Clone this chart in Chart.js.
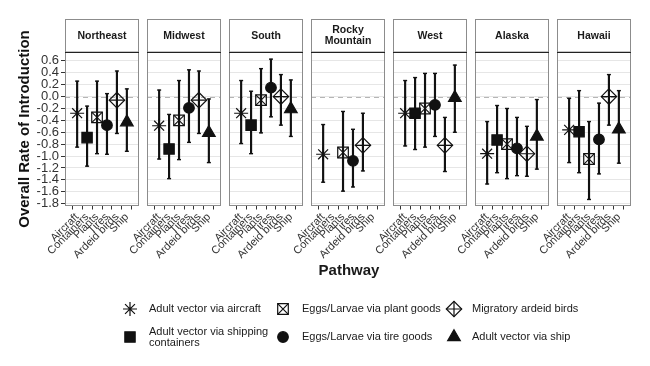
<!DOCTYPE html>
<html>
<head>
<meta charset="utf-8">
<script src="https://cdn.jsdelivr.net/npm/chart.js@4.4.1/dist/chart.umd.min.js"></script>
<style>
  html, body { margin: 0; padding: 0; background: #fff; }
  #wrap { position: relative; width: 650px; height: 366px; overflow: hidden;
          font-family: 'Liberation Sans', Arial, sans-serif; color: #1a1a1a; }
  #wrap canvas { position: absolute; top: 0; }
  #xtitle { position: absolute; left: 249px; width: 200px; top: 261px; text-align: center;
            font-weight: bold; font-size: 15px; line-height: 18px; }
  .leg { position: absolute; font-size: 11px; line-height: 11.5px; white-space: nowrap; }
</style>
</head>
<body>
<div id="wrap">
  <canvas id="legendIcons" width="650" height="366"></canvas>
  <div id="xtitle">Pathway</div>
</div>
<script>
const regions = ['Northeast', 'Midwest', 'South', 'Rocky Mountain', 'West', 'Alaska', 'Hawaii'];
const pathways = ['Aircraft', 'Containers', 'Plants', 'Tires', 'Ardeid birds', 'Ship'];
const yTicks = [0.6, 0.4, 0.2, 0.0, -0.2, -0.4, -0.6, -0.8, -1.0, -1.2, -1.4, -1.6, -1.8];

// one row per region, one column per pathway (null = not estimated)
const rateMean = [
  [-0.28, -0.69, -0.35, -0.48, -0.06, -0.43],
  [-0.49, -0.88, -0.40, -0.19, -0.06, -0.61],
  [-0.28, -0.48, -0.06, 0.15, 0.00, -0.21],
  [-0.97, null, -0.94, -1.08, -0.82, null],
  [-0.28, -0.28, -0.20, -0.14, -0.82, -0.02],
  [-0.96, -0.73, -0.80, -0.87, -0.96, -0.67],
  [-0.56, -0.59, -1.05, -0.72, 0.00, -0.55]
];
const rateLow = [
  [-0.85, -1.17, -0.96, -0.97, -0.62, -0.92],
  [-1.05, -1.38, -1.06, -0.77, -0.62, -1.11],
  [-0.79, -0.96, -0.61, -0.34, -0.48, -0.67],
  [-1.44, null, -1.59, -1.52, -1.25, null],
  [-0.83, -0.89, -0.85, -0.67, -1.26, -0.60],
  [-1.47, -1.28, -1.38, -1.33, -1.34, -1.22],
  [-1.11, -1.28, -1.73, -1.30, -0.48, -1.12]
];
const rateHigh = [
  [0.26, -0.16, 0.26, 0.05, 0.43, 0.13],
  [0.11, -0.30, 0.27, 0.45, 0.43, -0.04],
  [0.27, 0.09, 0.47, 0.63, 0.37, 0.28],
  [-0.47, null, -0.25, -0.55, -0.28, null],
  [0.27, 0.32, 0.39, 0.39, -0.35, 0.53],
  [-0.42, -0.15, -0.20, -0.35, -0.50, -0.05],
  [-0.03, 0.10, -0.42, -0.11, 0.37, 0.10]
];
const legendLabels = ['Adult vector via aircraft', 'Adult vector via shipping containers',
  'Eggs/Larvae via plant goods', 'Eggs/Larvae via tire goods',
  'Migratory ardeid birds', 'Adult vector via ship'];

const INK = '#111111';
const NONE = 'rgba(0,0,0,0)';
const markerStyle = ['star', 'rect', 'rect', 'circle', 'rectRot', 'triangle'];
const markerRadius = [7, 7.3, 7.5, 5.3, 7.7, 7.3];
const markerFill = [INK, INK, NONE, INK, NONE, INK];
const overlayStyle = [false, false, 'crossRot', false, 'cross', false];

// layout of the facets (px)
const PANEL_LEFT0 = 65, PANEL_STEP = 82, PANEL_W = 74;
const STRIP_TOP = 19.5, PANEL_TOP = 52, PANEL_BOTTOM = 206, CANVAS_H = 275;

Chart.defaults.font.family = "'Liberation Sans', Arial, sans-serif";
Chart.defaults.color = '#333';

const panelFrame = {
  id: 'panelFrame',
  beforeDatasetsDraw(chart) {
    const {ctx, chartArea: a} = chart;
    const y0 = Math.round(chart.scales.y.getPixelForValue(0)) + 0.5;
    ctx.save();
    ctx.strokeStyle = '#b5b5b5';
    ctx.lineWidth = 1;
    ctx.setLineDash([5, 4]);
    ctx.beginPath();
    ctx.moveTo(a.left, y0);
    ctx.lineTo(a.right, y0);
    ctx.stroke();
    ctx.restore();
  },
  afterDraw(chart, args, opts) {
    const {ctx, chartArea: a} = chart;
    ctx.save();
    ctx.strokeStyle = '#8c8c8c';
    ctx.lineWidth = 1;
    ctx.strokeRect(a.left + 0.5, a.top + 0.5, a.right - a.left - 1, a.bottom - a.top - 1);
    // strip
    ctx.fillStyle = '#fff';
    ctx.fillRect(a.left, STRIP_TOP, a.right - a.left, a.top - STRIP_TOP);
    ctx.strokeRect(a.left + 0.5, STRIP_TOP, a.right - a.left - 1, a.top - STRIP_TOP);
    ctx.strokeStyle = '#222';
    ctx.beginPath();
    ctx.moveTo(a.left, a.top + 0.5);
    ctx.lineTo(a.right, a.top + 0.5);
    ctx.stroke();
    ctx.fillStyle = '#1a1a1a';
    ctx.font = "bold 10.5px 'Liberation Sans', Arial, sans-serif";
    ctx.textAlign = 'center';
    ctx.textBaseline = 'middle';
    const cx = (a.left + a.right) / 2, cy = (STRIP_TOP + a.top) / 2;
    let lines = [opts.label];
    if (ctx.measureText(opts.label).width > a.right - a.left - 8) lines = opts.label.split(' ');
    lines.forEach((t, k) => ctx.fillText(t, cx, cy + (k - (lines.length - 1) / 2) * 11));
    ctx.restore();
  }
};

function makePanel(i) {
  const first = i === 0;
  const padL = first ? 0 : 45;
  const left = first ? 0 : PANEL_LEFT0 + i * PANEL_STEP - padL;
  const width = (first ? PANEL_LEFT0 : padL) + PANEL_W + 10;

  const cv = document.createElement('canvas');
  cv.width = width;
  cv.height = CANVAS_H;
  cv.style.left = left + 'px';
  document.getElementById('wrap').appendChild(cv);

  const points = pathways.map((p, k) => ({x: k, y: rateMean[i][k]}));
  const overlay = pathways.map((p, k) => ({x: k, y: overlayStyle[k] ? rateMean[i][k] : null}));
  const lows = pathways.map((p, k) => ({x: k, y: rateLow[i][k]}));
  const highs = pathways.map((p, k) => ({x: k, y: rateHigh[i][k]}));
  const bars = pathways.map((p, k) => rateLow[i][k] == null ? null : {x: k, y: [rateLow[i][k], rateHigh[i][k]]})
    .filter(d => d);

  new Chart(cv, {
    type: 'bar',
    data: {
      datasets: [
        {
          type: 'line', data: points, showLine: false, order: 1,
          pointStyle: markerStyle, pointRadius: markerRadius,
          pointBackgroundColor: markerFill, pointBorderColor: INK, pointBorderWidth: 1.2
        },
        {
          type: 'line', data: overlay, showLine: false, order: 0,
          pointStyle: overlayStyle.map(s => s || 'circle'), pointRadius: markerRadius,
          pointBackgroundColor: NONE, pointBorderColor: INK, pointBorderWidth: 1.1
        },
        {
          type: 'line', data: highs, showLine: false, order: 2,
          pointStyle: 'line', pointRadius: 2, pointBorderColor: INK, pointBorderWidth: 1.4
        },
        {
          type: 'line', data: lows, showLine: false, order: 2,
          pointStyle: 'line', pointRadius: 2, pointBorderColor: INK, pointBorderWidth: 1.4
        },
        {
          type: 'bar', data: bars, order: 3, barThickness: 1.5,
          backgroundColor: INK, borderWidth: 0
        }
      ]
    },
    options: {
      responsive: false,
      devicePixelRatio: 1,
      animation: false,
      events: [],
      layout: {padding: {left: padL, top: PANEL_TOP, right: 10, bottom: 0}},
      plugins: {
        legend: {display: false},
        tooltip: {enabled: false},
        panelFrame: {label: regions[i]}
      },
      scales: {
        x: {
          type: 'linear', min: -0.6, max: 5.6, bounds: 'data',
          afterBuildTicks: s => { s.ticks = pathways.map((p, k) => ({value: k})); },
          afterFit: s => { s.height = CANVAS_H - PANEL_BOTTOM; },
          border: {display: false},
          grid: {drawOnChartArea: false, drawTicks: true, tickLength: 3.5, tickColor: '#333', tickWidth: 1},
          ticks: {
            callback: v => pathways[v], autoSkip: false,
            minRotation: 45, maxRotation: 45, padding: 1,
            font: {size: 11}, color: '#333'
          }
        },
        y: {
          type: 'linear', min: -1.84, max: 0.75, bounds: 'data',
          afterBuildTicks: s => { s.ticks = yTicks.map(v => ({value: v})); },
          afterFit: s => { s.width = first ? PANEL_LEFT0 : 0; },
          border: {display: false},
          grid: {color: '#e6e6e6', lineWidth: 1, drawTicks: first, tickLength: 4, tickColor: '#333'},
          ticks: {
            display: first, autoSkip: false, padding: 2, font: {size: 13, lineHeight: 1}, color: '#333',
            callback: v => Math.abs(v) < 1e-9 ? '0.0' : v.toFixed(1)
          },
          title: {
            display: first, text: 'Overall Rate of Introduction', color: '#111',
            font: {size: 15, weight: 'bold', lineHeight: 1.2}, padding: {top: 16}
          }
        }
      }
    },
    plugins: [panelFrame]
  });
}

regions.forEach((r, i) => makePanel(i));

// legend: 3 columns x 2 rows, filled column by column
const legCols = [{sym: 130, txt: 149}, {sym: 283, txt: 302}, {sym: 454, txt: 472}];
const legRows = [309, 337];
const iconCtx = document.getElementById('legendIcons').getContext('2d');
legendLabels.forEach((label, k) => {
  const col = legCols[Math.floor(k / 2)], rowY = legRows[k % 2];
  iconCtx.save();
  iconCtx.fillStyle = markerFill[k] === NONE ? NONE : INK;
  iconCtx.strokeStyle = INK;
  iconCtx.lineWidth = 1.2;
  Chart.helpers.drawPoint(iconCtx, {pointStyle: markerStyle[k], radius: markerRadius[k], rotation: 0, borderWidth: 1.2}, col.sym, rowY);
  if (overlayStyle[k]) {
    Chart.helpers.drawPoint(iconCtx, {pointStyle: overlayStyle[k], radius: markerRadius[k], rotation: 0, borderWidth: 1.1}, col.sym, rowY);
  }
  iconCtx.restore();

  const el = document.createElement('div');
  el.className = 'leg';
  let lines = 1;
  if (label === 'Adult vector via shipping containers') {
    el.innerHTML = 'Adult vector via shipping<br>containers';
    lines = 2;
  } else {
    el.textContent = label;
  }
  el.style.left = col.txt + 'px';
  el.style.top = (rowY - lines * 11.5 / 2) + 'px';
  document.getElementById('wrap').appendChild(el);
});
</script>
</body>
</html>
